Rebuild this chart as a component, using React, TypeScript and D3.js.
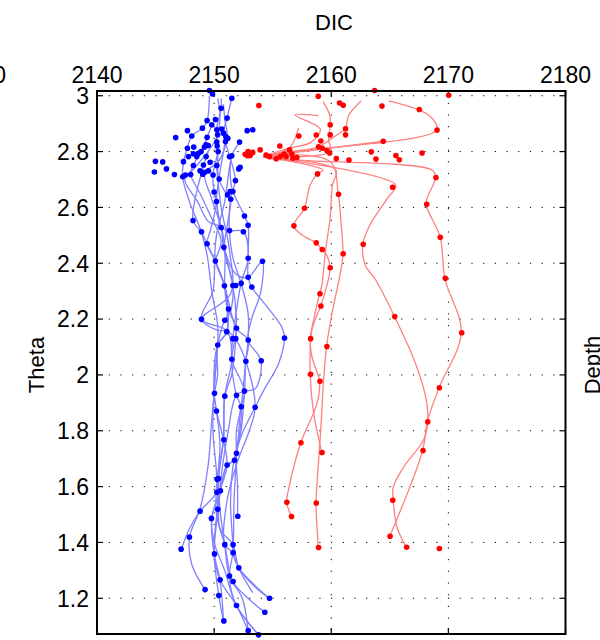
import * as d3 from 'd3'

// axis values
const xTicks = [2140, 2150, 2160, 2170, 2180]
const yTicks = [1.2, 1.4, 1.6, 1.8, 2.0, 2.2, 2.4, 2.6, 2.8, 3.0]
const xDomain = [2140, 2180]
const yDomain = [1.072, 3.017]

// blue profiles (DIC, theta)
const blueLines: [number, number][][] = [
  [[2150.3, 2.99], [2150.5, 2.93], [2150.2, 2.85], [2149.3, 2.79], [2148.3, 2.74], [2147.5, 2.7], [2148.6, 2.62], [2149.5, 2.55], [2150.6, 2.528], [2150.8, 2.457], [2151.3, 2.38], [2151.6, 2.32], [2151.4, 2.23], [2150.9, 2.196], [2150.3, 2.107], [2150.1, 2.0], [2150.0, 1.934], [2150.2, 1.871], [2150.5, 1.75], [2150.3, 1.626], [2150.3, 1.519], [2150.0, 1.359], [2150.4, 1.21], [2150.8, 1.119]],
  [[2150.6, 2.99], [2150.6, 2.955], [2150.2, 2.878], [2150.3, 2.8], [2149.9, 2.716], [2150.0, 2.655], [2150.2, 2.621], [2149.7, 2.52], [2149.4, 2.47], [2150.1, 2.408], [2150.9, 2.319], [2151.2, 2.236], [2151.9, 2.167], [2151.8, 2.13], [2151.5, 2.056], [2151.9, 1.927], [2152.3, 1.886], [2151.9, 1.719], [2151.7, 1.694], [2151.1, 1.677], [2150.5, 1.585], [2149.8, 1.486], [2150.0, 1.4], [2150.9, 1.3], [2151.9, 1.174], [2153.8, 1.069]],
  [[2151.5, 2.99], [2151.1, 2.92], [2150.8, 2.866], [2151.2, 2.8], [2151.8, 2.7], [2151.4, 2.63], [2151.3, 2.517], [2151.6, 2.42], [2152.3, 2.328], [2152.9, 2.22], [2152.9, 2.125], [2152.7, 2.049], [2152.6, 1.942], [2152.3, 1.8], [2151.9, 1.719], [2152.0, 1.6], [2152.0, 1.494]],
  [[2149.6, 3.0], [2149.4, 2.911], [2149.0, 2.884], [2148.1, 2.856], [2147.7, 2.812], [2147.4, 2.764], [2147.3, 2.71], [2147.9, 2.62], [2148.9, 2.513], [2149.4, 2.43], [2149.8, 2.3], [2150.3, 2.18], [2150.3, 2.107], [2150.0, 1.95], [2149.9, 1.8], [2150.2, 1.65], [2150.2, 1.58], [2148.8, 1.512], [2147.9, 1.45], [2147.2, 1.376]],
  [[2149.8, 2.896], [2149.4, 2.85], [2148.9, 2.8], [2148.2, 2.75], [2148.0, 2.718], [2148.8, 2.65], [2149.8, 2.56], [2150.6, 2.48], [2150.1, 2.408], [2149.9, 2.3], [2148.9, 2.199], [2150.3, 2.16], [2151.1, 2.155], [2151.5, 2.056], [2150.9, 1.924], [2150.8, 1.768], [2150.4, 1.629], [2150.5, 1.52], [2150.9, 1.392], [2151.3, 1.28], [2152.4, 1.2], [2152.9, 1.084]],
  [[2152.2, 2.834], [2151.5, 2.785], [2151.4, 2.7], [2151.6, 2.657], [2152.6, 2.569], [2152.9, 2.536], [2152.9, 2.418], [2152.9, 2.35], [2153.2, 2.315], [2154.6, 2.24], [2155.8, 2.17], [2156.0, 2.132], [2155.5, 2.04], [2154.3, 1.95], [2153.5, 1.884], [2152.4, 1.79], [2151.7, 1.694], [2151.4, 1.55], [2151.6, 1.392], [2151.6, 1.363], [2152.1, 1.309], [2153.5, 1.24], [2154.7, 1.2]],
  [[2150.8, 2.97], [2150.9, 2.92], [2151.1, 2.848], [2150.3, 2.76], [2149.2, 2.726], [2149.8, 2.63], [2150.6, 2.528], [2150.8, 2.457], [2151.6, 2.32], [2151.9, 2.2], [2151.85, 2.13], [2151.5, 2.0], [2150.9, 1.924], [2150.8, 1.77], [2150.26, 1.626], [2150.2, 1.5], [2150.9, 1.392], [2151.6, 1.26], [2152.9, 1.2], [2154.3, 1.15]],
  [[2151.5, 2.785], [2151.3, 2.74], [2150.9, 2.62], [2150.2, 2.5], [2150.11, 2.408], [2150.9, 2.32], [2151.2, 2.236], [2151.1, 2.155], [2150.31, 2.107], [2150.3, 2.0], [2150.03, 1.934], [2149.8, 1.84], [2149.5, 1.68], [2148.8, 1.52], [2147.9, 1.419], [2148.1, 1.32], [2149.23, 1.231]],
  [[2150.2, 2.86], [2150.3, 2.8], [2150.4, 2.702], [2151.1, 2.645], [2151.4, 2.629], [2151.1, 2.53], [2150.9, 2.457], [2151.9, 2.36], [2152.9, 2.35], [2154.1, 2.407], [2154.0, 2.3], [2153.2, 2.2], [2152.9, 2.125], [2154.0, 2.051], [2153.5, 1.95], [2152.6, 1.942], [2151.9, 1.927], [2151.2, 1.8], [2150.5, 1.585], [2150.5, 1.45], [2151.6, 1.392], [2152.1, 1.309], [2153.3, 1.22]],
  [[2150.0, 2.655], [2150.2, 2.621], [2150.6, 2.528], [2151.3, 2.517], [2152.5, 2.513], [2152.9, 2.418], [2152.3, 2.328], [2151.8, 2.2], [2151.6, 2.13], [2151.5, 2.056], [2152.6, 1.942], [2152.3, 1.886], [2151.7, 1.694], [2151.1, 1.677], [2150.3, 1.519], [2150.0, 1.359], [2150.5, 1.266], [2151.9, 1.174], [2152.9, 1.084]],
  [[2149.5, 2.8], [2149.1, 2.75], [2148.2, 2.553], [2148.9, 2.513], [2149.4, 2.47], [2150.1, 2.408], [2150.9, 2.319], [2151.9, 2.167], [2152.9, 2.125], [2152.7, 2.049], [2152.3, 1.886], [2151.9, 1.8], [2151.9, 1.719], [2151.7, 1.55], [2151.6, 1.363], [2151.3, 1.28], [2151.9, 1.174], [2153.8, 1.069]],
  [[2151.0, 2.854], [2150.8, 2.8], [2150.4, 2.7], [2150.2, 2.621], [2150.9, 2.457], [2150.9, 2.32], [2151.1, 2.155], [2150.3, 2.107], [2150.0, 1.934], [2150.2, 1.871], [2150.8, 1.768], [2151.1, 1.677], [2150.5, 1.585], [2149.8, 1.486], [2150.0, 1.359], [2150.5, 1.266], [2150.8, 1.119]],
  [[2150.2, 2.75], [2150.6, 2.6], [2151.3, 2.45], [2151.4, 2.29], [2148.9, 2.199], [2150.8, 2.167], [2151.8, 2.13], [2152.7, 2.049], [2153.5, 1.884], [2153.0, 1.8], [2152.0, 1.69], [2151.1, 1.55], [2150.9, 1.392], [2151.6, 1.363], [2152.1, 1.309], [2154.7, 1.2]],
]

const blueDots: [number, number][] = [
  [2149.6, 3.019], [2149.86, 3.006], [2151.51, 2.991], [2150.6, 2.955], [2151.11, 2.92], [2149.4, 2.911], [2150.11, 2.915],
  [2149.8, 2.896], [2149.0, 2.884], [2147.72, 2.875], [2148.09, 2.856], [2146.72, 2.85], [2150.23, 2.878], [2150.65, 2.881],
  [2150.8, 2.866], [2150.3, 2.86], [2151.0, 2.854], [2151.17, 2.848], [2149.4, 2.851], [2152.82, 2.875], [2153.3, 2.878],
  [2150.23, 2.834], [2150.97, 2.836], [2152.17, 2.834], [2149.3, 2.824], [2149.5, 2.822], [2149.17, 2.816], [2147.72, 2.812],
  [2148.26, 2.816], [2150.26, 2.82], [2148.89, 2.8], [2148.66, 2.794], [2148.23, 2.792], [2150.34, 2.8], [2147.81, 2.782],
  [2147.38, 2.764], [2148.52, 2.782], [2149.32, 2.782], [2151.31, 2.782], [2151.51, 2.785], [2144.99, 2.765], [2145.61, 2.763],
  [2148.23, 2.75], [2149.09, 2.752], [2149.66, 2.762], [2150.23, 2.75], [2152.22, 2.744], [2152.1, 2.738], [2145.93, 2.738],
  [2144.9, 2.727], [2146.61, 2.718], [2147.32, 2.71], [2147.55, 2.716], [2148.0, 2.718], [2148.8, 2.731], [2149.2, 2.726],
  [2149.03, 2.719], [2149.52, 2.731], [2149.91, 2.716], [2150.43, 2.702], [2151.82, 2.696], [2150.0, 2.655], [2151.37, 2.657],
  [2151.6, 2.657], [2151.14, 2.645], [2151.42, 2.629], [2150.2, 2.621], [2152.59, 2.569], [2152.9, 2.536], [2148.2, 2.553],
  [2148.92, 2.513], [2150.6, 2.528], [2151.31, 2.517], [2152.5, 2.513], [2149.4, 2.47], [2150.83, 2.457], [2150.11, 2.408],
  [2152.91, 2.418], [2154.13, 2.407], [2152.91, 2.35], [2150.88, 2.319], [2151.6, 2.32], [2151.85, 2.32], [2152.31, 2.328],
  [2153.22, 2.315], [2151.23, 2.236], [2148.92, 2.199], [2150.91, 2.196], [2151.91, 2.167], [2151.08, 2.155], [2151.6, 2.13],
  [2151.85, 2.13], [2152.91, 2.125], [2156.01, 2.132], [2150.31, 2.107], [2151.51, 2.056], [2152.71, 2.049], [2154.02, 2.051],
  [2150.03, 1.934], [2150.91, 1.924], [2151.91, 1.927], [2152.59, 1.942], [2152.31, 1.886], [2153.5, 1.884], [2150.2, 1.871],
  [2150.83, 1.768], [2151.91, 1.719], [2151.74, 1.694], [2151.11, 1.677], [2150.37, 1.629], [2150.26, 1.626], [2150.54, 1.585],
  [2150.23, 1.58], [2150.31, 1.519], [2152.02, 1.494], [2148.8, 1.512], [2149.77, 1.486], [2147.89, 1.419], [2147.18, 1.376],
  [2150.91, 1.392], [2151.62, 1.392], [2150.03, 1.359], [2151.62, 1.363], [2152.11, 1.309], [2151.31, 1.28], [2150.51, 1.266],
  [2151.62, 1.26], [2149.23, 1.231], [2150.4, 1.21], [2154.73, 1.2], [2151.91, 1.174], [2154.33, 1.15], [2150.83, 1.119],
  [2152.91, 1.084], [2153.79, 1.069],
]

// red profiles (DIC, theta)
const redLines: [number, number][][] = [
  [[2164.9, 2.982], [2168.3, 2.931], [2169.0, 2.877], [2154.2, 2.782], [2168.6, 2.734], [2168.9, 2.707], [2168.3, 2.645], [2168.1, 2.611], [2169.3, 2.493], [2169.7, 2.346], [2171.1, 2.151], [2169.2, 1.954], [2168.2, 1.832], [2167.8, 1.729], [2165.0, 1.422]],
  [[2154.2, 2.782], [2165.5, 2.68], [2164.8, 2.633], [2163.3, 2.537], [2162.7, 2.468], [2162.9, 2.394], [2163.8, 2.34], [2165.4, 2.209], [2167.3, 2.029], [2168.2, 1.886], [2168.0, 1.778], [2166.2, 1.671], [2165.3, 1.599], [2165.3, 1.551], [2165.6, 1.456], [2166.4, 1.383]],
  [[2154.2, 2.782], [2160.4, 2.734], [2160.1, 2.68], [2159.9, 2.561], [2159.5, 2.442], [2159.2, 2.322], [2159.0, 2.291], [2158.5, 2.197], [2158.2, 2.13], [2158.35, 2.065], [2159.0, 1.977], [2158.8, 1.9], [2157.4, 1.757], [2156.4, 1.599], [2156.2, 1.544], [2156.6, 1.493]],
  [[2154.5, 2.788], [2159.9, 2.764], [2160.6, 2.647], [2160.85, 2.537], [2161.0, 2.434], [2160.8, 2.37], [2160.06, 2.22], [2159.6, 2.102], [2159.35, 1.982], [2159.1, 1.802], [2158.8, 1.623], [2158.7, 1.541], [2158.9, 1.382]],
  [[2154.2, 2.782], [2159.3, 2.734], [2158.8, 2.72], [2158.2, 2.68], [2157.7, 2.597], [2156.8, 2.534], [2157.5, 2.501], [2158.7, 2.473], [2159.2, 2.449], [2159.6, 2.43], [2159.9, 2.384], [2159.5, 2.3], [2159.1, 2.247], [2158.35, 2.161], [2158.2, 2.002], [2158.5, 1.862], [2159.2, 1.722]],
  [[2162.56, 2.982], [2161.48, 2.929], [2161.2, 2.882], [2160.5, 2.86], [2159.6, 2.834], [2158.9, 2.817], [2154.2, 2.782]],
  [[2159.3, 2.979], [2159.86, 2.932], [2159.9, 2.89], [2159.77, 2.842], [2159.9, 2.8], [2154.2, 2.782]],
  [[2158.9, 2.929], [2156.9, 2.931], [2159.06, 2.88], [2158.26, 2.833], [2156.4, 2.812], [2154.2, 2.782]],
  [[2157.2, 2.884], [2156.4, 2.812], [2154.2, 2.782]],
  [[2164.44, 2.837], [2154.2, 2.782]],
]

const redDots: [number, number][] = [
  [2158.89, 2.998], [2163.7, 3.019], [2170.03, 3.002], [2153.82, 2.965], [2160.71, 2.974], [2161.02, 2.966], [2164.33, 2.963],
  [2167.52, 2.951], [2159.91, 2.896], [2161.22, 2.882], [2161.22, 2.86], [2159.91, 2.86], [2158.72, 2.859], [2157.23, 2.856],
  [2169.03, 2.877], [2164.44, 2.837], [2155.61, 2.82], [2159.11, 2.838], [2158.92, 2.817], [2159.23, 2.812], [2159.63, 2.804],
  [2159.86, 2.795], [2156.44, 2.806], [2153.93, 2.806], [2163.42, 2.799], [2167.75, 2.795], [2165.52, 2.786], [2165.81, 2.771],
  [2163.82, 2.773], [2161.51, 2.77], [2160.43, 2.775], [2154.44, 2.788], [2154.73, 2.782], [2155.3, 2.774], [2155.64, 2.782],
  [2155.98, 2.791], [2156.15, 2.782], [2156.64, 2.791], [2156.72, 2.776], [2157.06, 2.779], [2152.65, 2.79], [2152.9, 2.8],
  [2153.16, 2.794], [2153.08, 2.786], [2153.3, 2.797], [2152.85, 2.785], [2158.83, 2.72], [2168.94, 2.707], [2165.24, 2.672],
  [2160.62, 2.647], [2168.15, 2.611], [2157.72, 2.597], [2156.81, 2.534], [2169.31, 2.493], [2158.72, 2.473], [2162.73, 2.468],
  [2159.23, 2.449], [2161.02, 2.434], [2159.91, 2.384], [2169.74, 2.346], [2159.04, 2.291], [2159.12, 2.247], [2165.42, 2.209],
  [2171.14, 2.151], [2158.24, 2.13], [2159.63, 2.102], [2158.24, 2.002], [2159.04, 1.977], [2169.23, 1.954], [2168.24, 1.832],
  [2157.41, 1.757], [2167.84, 1.729], [2159.21, 1.722], [2165.25, 1.551], [2156.21, 1.544], [2158.72, 1.541], [2156.61, 1.493],
  [2165.02, 1.422], [2158.92, 1.382], [2166.44, 1.383], [2169.23, 1.378],
]

const W = 600
const H = 640
const box = { left: 97, right: 565.5, top: 91, bottom: 634 }
const font = 'Arial, "Liberation Sans", Helvetica, sans-serif'

export default function App() {
  const x = d3.scaleLinear().domain(xDomain).range([box.left, box.right])
  const y = d3.scaleLinear().domain(yDomain).range([box.bottom, box.top])

  const line = d3.line<[number, number]>()
    .x(d => x(d[0]))
    .y(d => y(d[1]))
    .curve(d3.curveCatmullRom.alpha(0.5))

  const fmt = d3.format('~g')
  const tick = 6

  return (
    <svg
      width={W}
      height={H}
      style={{ position: 'absolute', left: 0, top: 0, background: '#fff' }}
      fontFamily={font}
    >
      {/* grid */}
      <g stroke="#000" strokeWidth={1} strokeDasharray="1.2,10.5">
        {xTicks.slice(1, -1).map(t => (
          <line key={'gx' + t} x1={x(t)} x2={x(t)} y1={box.top} y2={box.bottom} />
        ))}
        {yTicks.map(t => (
          <line key={'gy' + t} x1={box.left} x2={box.right} y1={y(t)} y2={y(t)} />
        ))}
      </g>

      {/* ticks */}
      <g stroke="#000" strokeWidth={1.2}>
        {xTicks.map(t => (
          <g key={'tx' + t}>
            <line x1={x(t)} x2={x(t)} y1={box.top} y2={box.top + tick} />
            <line x1={x(t)} x2={x(t)} y1={box.bottom} y2={box.bottom - tick} />
          </g>
        ))}
        {yTicks.map(t => (
          <g key={'ty' + t}>
            <line x1={box.left} x2={box.left + tick} y1={y(t)} y2={y(t)} />
            <line x1={box.right} x2={box.right - tick} y1={y(t)} y2={y(t)} />
          </g>
        ))}
      </g>

      {/* profiles */}
      <g fill="none" strokeWidth={1.3}>
        {blueLines.map((p, i) => (
          <path key={'bl' + i} d={line(p) || ''} stroke="#7f7fff" />
        ))}
        {redLines.map((p, i) => (
          <path key={'rl' + i} d={line(p) || ''} stroke="#ff8080" />
        ))}
      </g>
      <g fill="#0000ff">
        {blueDots.map((d, i) => (
          <circle key={'bd' + i} cx={x(d[0])} cy={y(d[1])} r={2.8} />
        ))}
      </g>
      <g fill="#ff0000">
        {redDots.map((d, i) => (
          <circle key={'rd' + i} cx={x(d[0])} cy={y(d[1])} r={2.8} />
        ))}
      </g>

      {/* frame */}
      <rect
        x={box.left}
        y={box.top}
        width={box.right - box.left}
        height={box.bottom - box.top}
        fill="none"
        stroke="#000"
        strokeWidth={2}
      />

      {/* tick labels */}
      <g fontSize={23} fill="#000">
        {xTicks.map(t => (
          <text key={'lx' + t} x={x(t)} y={83} textAnchor="middle">{t}</text>
        ))}
        {yTicks.map(t => (
          <text key={'ly' + t} x={89} y={y(t)} dy="0.36em" textAnchor="end">{fmt(t)}</text>
        ))}
        <text x={6} y={83} textAnchor="end">2130</text>
      </g>

      {/* axis titles */}
      <g fontSize={22} fill="#000">
        <text x={334} y={30} textAnchor="middle">DIC</text>
        <text transform="translate(44,365) rotate(-90)" textAnchor="middle">Theta</text>
        <text transform="translate(600,365) rotate(-90)" textAnchor="middle">Depth</text>
      </g>
    </svg>
  )
}
